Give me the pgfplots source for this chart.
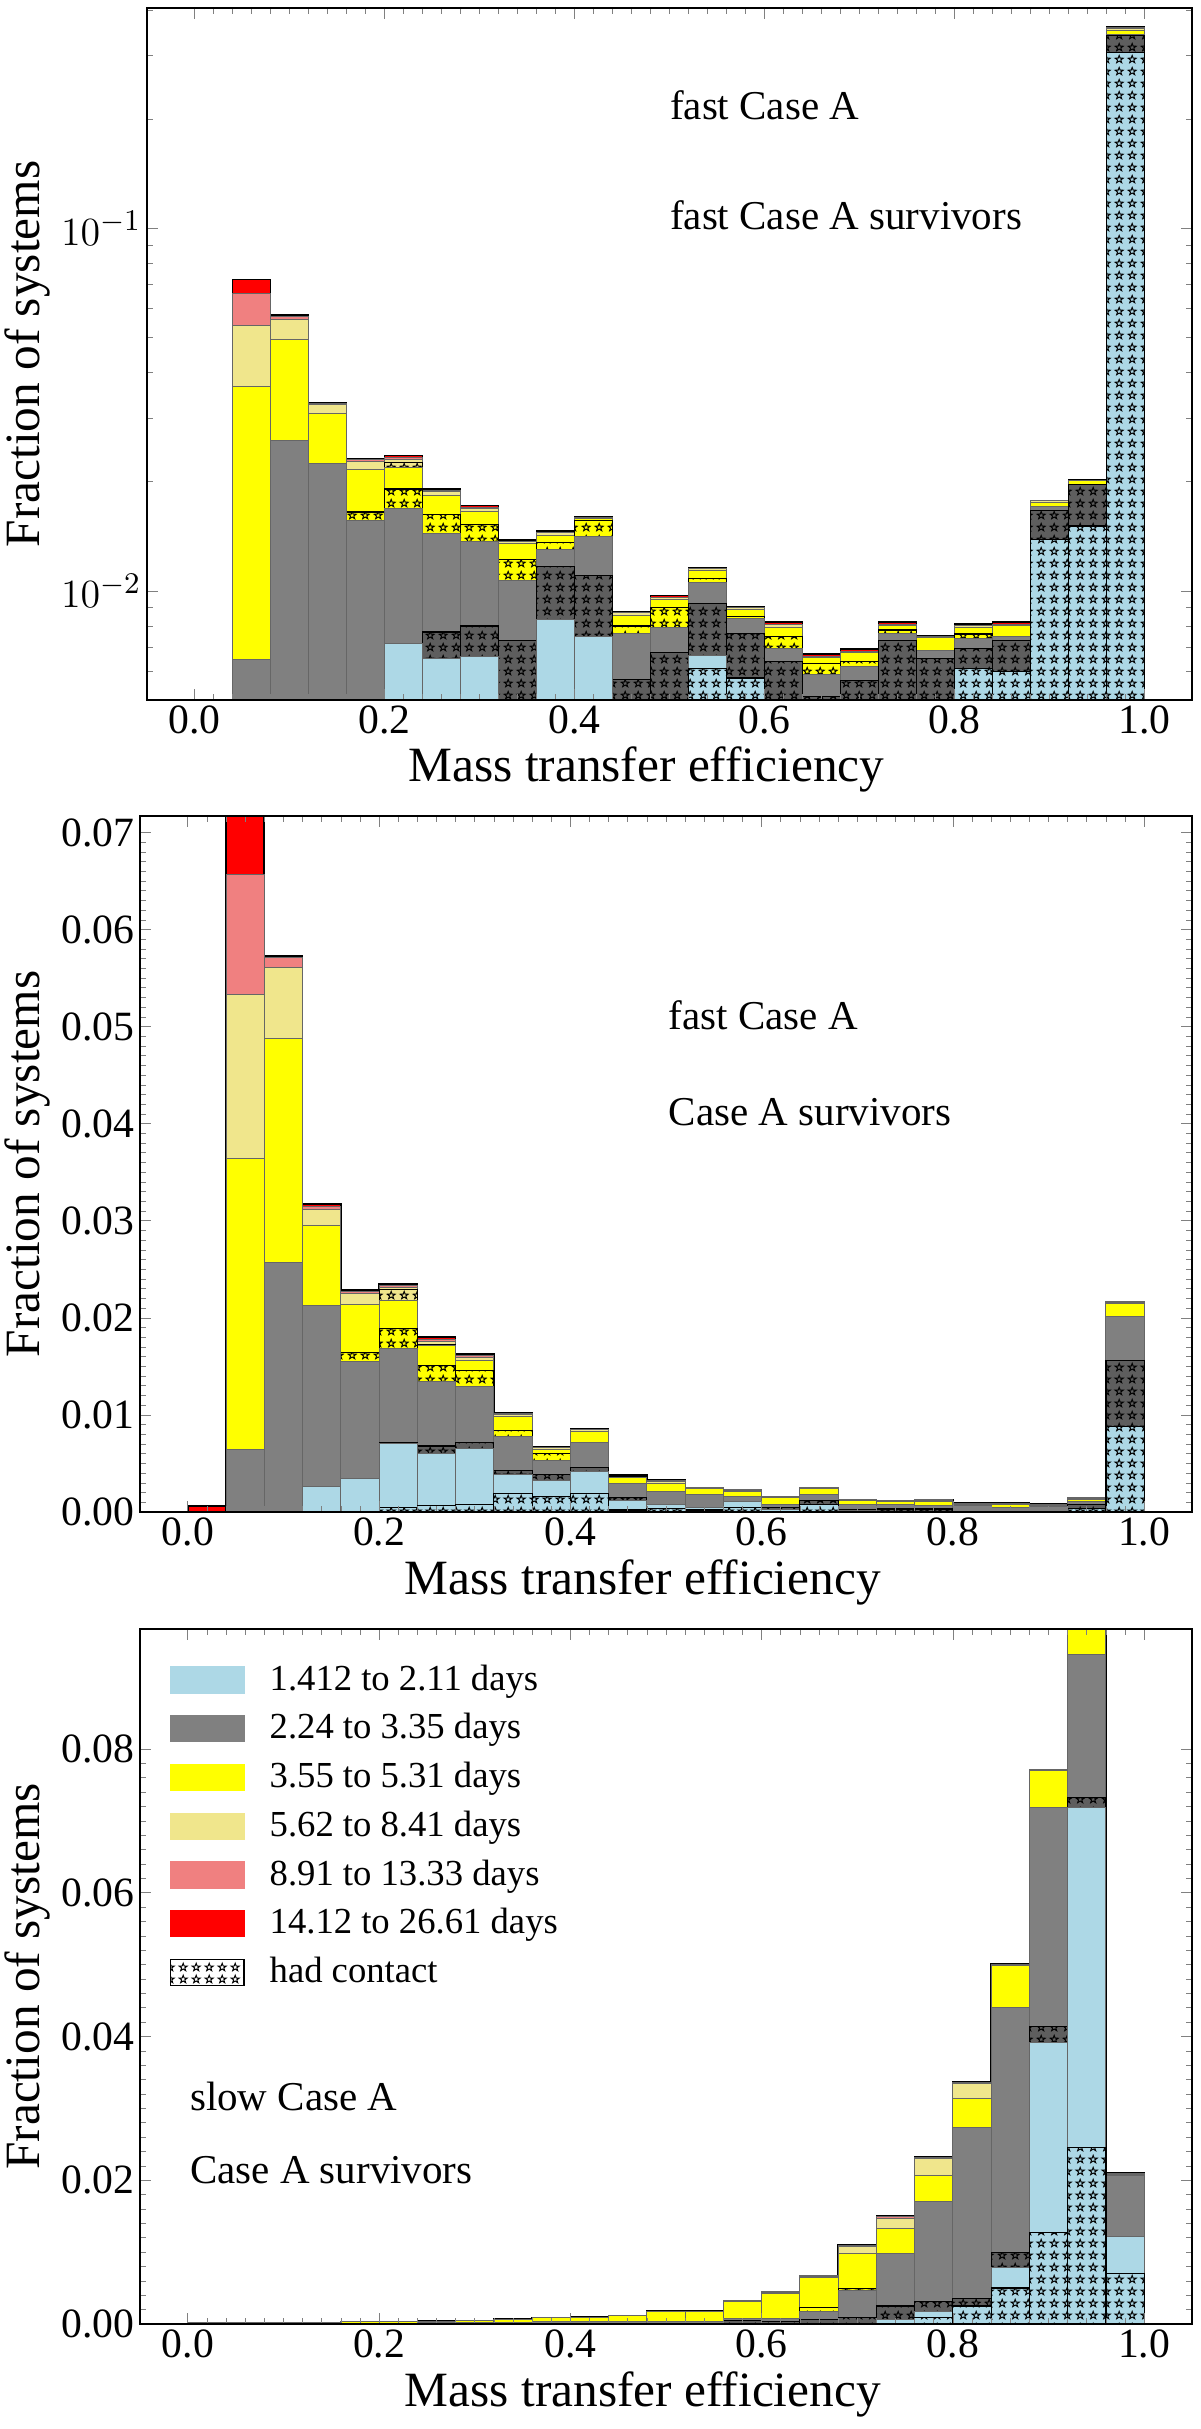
\documentclass[border=0pt]{standalone}
\usepackage{fontspec}
\setmainfont{Liberation Serif}
\usepackage{pgfplots}
\usepackage{pgfplotstable}
\pgfplotsset{compat=1.18}
\usetikzlibrary{patterns}

\definecolor{lblue}{HTML}{ADD8E6}
\definecolor{mgray}{HTML}{808080}
\definecolor{dgray}{HTML}{5E5E5E}
\definecolor{yel}{HTML}{FFFF00}
\definecolor{khak}{HTML}{F0E68C}
\definecolor{lcoral}{HTML}{F08080}
\definecolor{rred}{HTML}{FF0000}

% outlined five-pointed stars, like the matplotlib '*' hatch
\pgfdeclarepatternformonly{ostars}{\pgfqpoint{0pt}{0pt}}{\pgfqpoint{3.8pt}{3.6pt}}{\pgfqpoint{3.8pt}{3.6pt}}{%
  \pgfsetlinewidth{0.3pt}%
  \pgfpathmoveto{\pgfqpoint{1.9pt}{3.1pt}}%
  \pgfpathlineto{\pgfqpoint{1.594pt}{2.221pt}}%
  \pgfpathlineto{\pgfqpoint{0.664pt}{2.202pt}}%
  \pgfpathlineto{\pgfqpoint{1.405pt}{1.639pt}}%
  \pgfpathlineto{\pgfqpoint{1.136pt}{0.748pt}}%
  \pgfpathlineto{\pgfqpoint{1.9pt}{1.28pt}}%
  \pgfpathlineto{\pgfqpoint{2.664pt}{0.748pt}}%
  \pgfpathlineto{\pgfqpoint{2.395pt}{1.639pt}}%
  \pgfpathlineto{\pgfqpoint{3.136pt}{2.202pt}}%
  \pgfpathlineto{\pgfqpoint{2.206pt}{2.221pt}}%
  \pgfpathclose
  \pgfusepathqstroke
}

\newcommand\tickfont{\fontsize{12.5}{14}\selectfont}
\newcommand\labfont{\fontsize{14.8}{17}\selectfont}
\newcommand\annfont{\fontsize{12.3}{14}\selectfont}
\newcommand\legfont{\fontsize{11}{13}\selectfont}

% cumulative tops of the stacked layers in each bin (bin centres in x)
% lbC/lb: 1.412-2.11 d (contact / rest), grC/gr: 2.24-3.35 d, yeC/ye: 3.55-5.31 d,
% khC/kh: 5.62-8.41 d, co: 8.91-13.33 d, re: 14.12-26.61 d
\pgfplotstableread{
x    lbC     lb      grC     gr      yeC     ye      khC     kh      co      re
0.02 1e-4    1e-4    1e-4    1e-4    1e-4    1e-4    1e-4    1e-4    1e-4    1e-4
0.06 1e-4    1e-4    1e-4    0.00646 0.00646 0.0365  0.0365  0.0538  0.0661  0.0723
0.10 1e-4    1e-4    1e-4    0.0260  0.0260  0.0493  0.0493  0.0561  0.0570  0.0577
0.14 1e-4    0.0028  0.0028  0.0225  0.0225  0.0308  0.0308  0.0326  0.0329  0.0331
0.18 1e-4    0.0034  0.0034  0.0156  0.0165  0.0216  0.0216  0.0227  0.0230  0.0231
0.22 0.0005  0.00716 0.00716 0.0169  0.0191  0.0219  0.0226  0.0230  0.0233  0.0236
0.26 0.0007  0.0065  0.0077  0.0144  0.0162  0.0183  0.0183  0.0188  0.0189  0.0191
0.30 0.0008  0.0066  0.0080  0.0137  0.0152  0.0165  0.0165  0.0169  0.0170  0.0172
0.34 0.0019  0.0039  0.0073  0.0107  0.0122  0.0135  0.0135  0.0137  0.0137  0.0138
0.38 0.0016  0.00834 0.0117  0.0130  0.0136  0.0142  0.0142  0.0145  0.0145  0.0146
0.42 0.0019  0.0075  0.0110  0.0141  0.0156  0.0158  0.0158  0.0159  0.0159  0.0160
0.46 0.0002  0.0012  0.0057  0.00764 0.0080  0.00855 0.00855 0.0087  0.0087  0.00875
0.50 1e-4    1e-4    0.00676 0.00794 0.0090  0.00944 0.00944 0.0096  0.0096  0.0097
0.54 0.0061  0.00665 0.00923 0.01057 0.0108  0.0114  0.0114  0.0115  0.0115  0.01156
0.58 0.00575 0.00575 0.00764 0.0084  0.0085  0.0089  0.0089  0.0090  0.0090  0.00904
0.62 1e-4    1e-4    0.0064  0.00694 0.0075  0.00794 0.00794 0.0081  0.0081  0.0082
0.66 1e-4    1e-4    0.0051  0.00589 0.0063  0.00653 0.00653 0.0066  0.0066  0.0067
0.70 1e-4    1e-4    0.00565 0.0062  0.0064  0.00676 0.00676 0.0068  0.0068  0.0069
0.74 1e-4    1e-4    0.0073  0.00764 0.0078  0.0080  0.0080  0.0081  0.0081  0.0082
0.78 1e-4    1e-4    0.0065  0.00683 0.00683 0.00745 0.00745 0.0075  0.0075  0.0075
0.82 0.0061  0.0061  0.00694 0.0074  0.0076  0.0079  0.0079  0.0080  0.0080  0.0081
0.86 0.0060  0.0060  0.0073  0.0075  0.0075  0.0080  0.0080  0.0081  0.0081  0.0082
0.90 0.01383 0.01383 0.01664 0.0171  0.0171  0.0175  0.0175  0.0177  0.0177  0.01775
0.94 0.0151  0.0151  0.0196  0.0196  0.0196  0.0201  0.0201  0.0202  0.0202  0.0203
0.98 0.305   0.305   0.340   0.343   0.343   0.352   0.352   0.356   0.358   0.360
}\fastsurv

\pgfplotstableread{
x    lbC     lb      grC     gr      yeC     ye      khC     kh      co      re
0.02 0       0       0       0       0       0       0       0       0       0.00063
0.06 0       0       0       0.00646 0.00646 0.0364  0.0364  0.0533  0.0657  0.0720
0.10 0       0       0       0.0257  0.0257  0.0488  0.0488  0.0561  0.0571  0.0573
0.14 0       0.00263 0.00263 0.0213  0.0213  0.0295  0.0295  0.0312  0.0315  0.0317
0.18 0       0.0034  0.0034  0.0155  0.0164  0.0214  0.0214  0.0225  0.0227  0.0229
0.22 0.0005  0.0071  0.0071  0.0168  0.0189  0.0218  0.0229  0.0231  0.0233  0.0235
0.26 0.0007  0.0060  0.0068  0.0134  0.0151  0.0172  0.0172  0.0176  0.0178  0.0180
0.30 0.0008  0.0065  0.0072  0.0129  0.0146  0.0156  0.0156  0.0159  0.0161  0.0163
0.34 0.0019  0.0039  0.0043  0.0078  0.0084  0.0098  0.0098  0.0100  0.0101  0.0102
0.38 0.0016  0.0032  0.0039  0.0053  0.0060  0.0064  0.0064  0.0066  0.0066  0.0067
0.42 0.0019  0.0042  0.0046  0.0072  0.0072  0.0083  0.0083  0.0085  0.0085  0.0086
0.46 0.0002  0.0012  0.0015  0.0029  0.0029  0.0036  0.0036  0.0037  0.0037  0.0038
0.50 0.0004  0.0008  0.0008  0.0021  0.0021  0.0029  0.0029  0.0031  0.0032  0.0033
0.54 0.0002  0.0005  0.0005  0.0018  0.0018  0.0024  0.0024  0.0025  0.0025  0.0025
0.58 0.0005  0.0011  0.0011  0.0016  0.0016  0.0021  0.0021  0.0022  0.0023  0.0023
0.62 0       0.0003  0.0005  0.0008  0.0008  0.0015  0.0015  0.0016  0.0016  0.0016
0.66 0.0008  0.0008  0.0012  0.0018  0.0018  0.0024  0.0024  0.0025  0.0025  0.0025
0.70 0       0.0002  0.0002  0.0008  0.0008  0.0012  0.0012  0.0013  0.0013  0.0013
0.74 0       0       0.0003  0.0008  0.0008  0.0011  0.0011  0.0012  0.0012  0.0012
0.78 0       0       0.0003  0.0007  0.0007  0.0011  0.0011  0.0012  0.0013  0.0013
0.82 0       0       0       0.0007  0.0007  0.0008  0.0008  0.0009  0.0009  0.0009
0.86 0       0       0       0.0005  0.0005  0.0008  0.0008  0.0009  0.0009  0.0009
0.90 0       0       0       0.0006  0.0006  0.0007  0.0007  0.0008  0.0008  0.0008
0.94 0.0004  0.0004  0.0008  0.0011  0.0011  0.0013  0.0013  0.0014  0.0015  0.0015
0.98 0.0088  0.0088  0.0156  0.0201  0.0201  0.0215  0.0215  0.0216  0.0217  0.0217
}\fastall

\pgfplotstableread{
x    lbC     lb      grC     gr      yeC     ye      khC     kh      co      re
0.02 0       0       0       0.0001  0.0001  0.0002  0.0002  0.0002  0.0002  0.0002
0.06 0       0       0       0.0001  0.0001  0.0002  0.0002  0.0002  0.0002  0.0002
0.10 0       0       0       0.0001  0.0001  0.0002  0.0002  0.0002  0.0002  0.0002
0.14 0       0       0       0.0001  0.0001  0.0002  0.0002  0.0002  0.0002  0.0002
0.18 0       0       0       0.0001  0.0001  0.0003  0.0003  0.0003  0.0003  0.0003
0.22 0       0       0       0.0001  0.0001  0.0003  0.0003  0.0003  0.0003  0.0003
0.26 0       0       0       0.0002  0.0002  0.0004  0.0004  0.0004  0.0004  0.0004
0.30 0       0       0       0.0002  0.0002  0.0005  0.0005  0.0005  0.0005  0.0005
0.34 0       0       0       0.0002  0.0002  0.00065 0.00065 0.00065 0.00065 0.00065
0.38 0       0       0       0.0003  0.0003  0.00086 0.00086 0.00086 0.00086 0.00086
0.42 0       0       0       0.0003  0.0003  0.00093 0.00093 0.00093 0.00093 0.00093
0.46 0       0       0       0.0003  0.0003  0.00115 0.00115 0.00115 0.00115 0.00115
0.50 0       0       0       0.0003  0.0003  0.0018  0.0018  0.0019  0.0019  0.0019
0.54 0       0       0       0.0003  0.0003  0.0017  0.0017  0.0018  0.0018  0.0018
0.58 0       0       0.0005  0.0007  0.0007  0.0031  0.0031  0.0032  0.0032  0.0032
0.62 0       0       0.0003  0.0007  0.0007  0.0043  0.0043  0.0044  0.0045  0.0045
0.66 0       0       0.0006  0.0018  0.0023  0.0064  0.0064  0.0066  0.0067  0.0067
0.70 0       0       0.0009  0.0047  0.0049  0.0098  0.0098  0.0108  0.0109  0.0110
0.74 0       0.0006  0.0025  0.0098  0.0098  0.0133  0.0133  0.0147  0.0149  0.0151
0.78 0.0009  0.0018  0.0031  0.0170  0.0170  0.0206  0.0206  0.0230  0.0231  0.0232
0.82 0.0025  0.0025  0.0036  0.0273  0.0273  0.0314  0.0314  0.0335  0.0336  0.0337
0.86 0.0050  0.0079  0.0100  0.0440  0.0440  0.0499  0.0499  0.0500  0.0500  0.0501
0.90 0.0127  0.0391  0.0414  0.0718  0.0718  0.0770  0.0770  0.0771  0.0771  0.0771
0.94 0.0246  0.0718  0.0732  0.0931  0.0931  0.0970  0.0970  0.0971  0.0972  0.0972
0.98 0.0070  0.0122  0.0122  0.0206  0.0206  0.0208  0.0208  0.0209  0.0210  0.0210
}\slowall

\pgfplotsset{
  panel/.style={
    scale only axis,
    xmin=-0.05, xmax=1.05,
    xtick={0,0.2,0.4,0.6,0.8,1},
    minor x tick num=9,
    tick align=inside, tick pos=both,
    major tick length=3.4pt, minor tick length=1.8pt,
    axis on top,
    tick label style={font=\tickfont},
    ticklabel style={inner sep=1.5pt},
    /pgf/number format/assume math mode=true,
    scaled x ticks=false, scaled y ticks=false,
    xticklabel style={/pgf/number format/fixed,/pgf/number format/fixed zerofill,/pgf/number format/precision=1},
    xlabel={Mass transfer efficiency},
    ylabel={Fraction of systems},
    label style={font=\labfont},
    x label style={at={(axis description cs:0.478,-0.101)}, anchor=center},
  },
  lay/.style={ybar, bar shift=0pt, bar width=0.04, forget plot, draw=black!60, line width=0.3pt},
  hat/.style={draw=black, line width=0.35pt, postaction={pattern=ostars, pattern color=black}},
  legpatch/.style={legend image code/.code={\path[##1] (0pt,-3.9pt) rectangle (22pt,3.9pt);}},
}

% each layer is drawn from the axis floor up to its cumulative top, top layer first
\newcommand\stack[1]{%
  \addplot[lay, fill=rred, draw=black, line width=0.5pt] table[x=x, y=re] {#1};
  \addplot[lay, fill=lcoral] table[x=x, y=co] {#1};
  \addplot[lay, fill=khak] table[x=x, y=kh] {#1};
  \addplot[lay, fill=khak, hat] table[x=x, y=khC] {#1};
  \addplot[lay, fill=yel] table[x=x, y=ye] {#1};
  \addplot[lay, fill=yel, hat] table[x=x, y=yeC] {#1};
  \addplot[lay, fill=mgray] table[x=x, y=gr] {#1};
  \addplot[lay, fill=dgray, hat] table[x=x, y=grC] {#1};
  \addplot[lay, fill=lblue] table[x=x, y=lb] {#1};
  \addplot[lay, fill=lblue, hat] table[x=x, y=lbC] {#1};
}

\begin{document}
\begin{tikzpicture}
\useasboundingbox (0,0) rectangle (360pt,728.7pt);

% top: fast Case A survivors, log scale
\begin{axis}[panel,
  at={(44.1pt,518.7pt)}, anchor=south west,
  width=313.5pt, height=207.6pt,
  ymode=log, log origin=infty,
  ymin=0.005, ymax=0.405,
  y label style={at={(axis description cs:-0.1148,0.5)}, anchor=center},
]
\stack{\fastsurv}
\node[anchor=west, inner sep=0pt, font=\annfont] at (rel axis cs:0.5,0.86) {fast Case A};
\node[anchor=west, inner sep=0pt, font=\annfont] at (rel axis cs:0.5,0.70) {fast Case A survivors};
\end{axis}

% middle: fast Case A, Case A survivors
\begin{axis}[panel,
  at={(42pt,275.1pt)}, anchor=south west,
  width=315.6pt, height=208.8pt,
  ymin=0, ymax=0.0717,
  ytick={0,0.01,0.02,0.03,0.04,0.05,0.06,0.07},
  minor y tick num=9,
  yticklabel style={/pgf/number format/fixed,/pgf/number format/fixed zerofill,/pgf/number format/precision=2},
  y label style={at={(axis description cs:-0.1074,0.5)}, anchor=center},
]
\stack{\fastall}
\node[anchor=west, inner sep=0pt, font=\annfont] at (rel axis cs:0.502,0.714) {fast Case A};
\node[anchor=west, inner sep=0pt, font=\annfont] at (rel axis cs:0.502,0.575) {Case A survivors};
\end{axis}

% bottom: slow Case A, Case A survivors
\begin{axis}[panel,
  at={(42pt,31.5pt)}, anchor=south west,
  width=315.6pt, height=208.5pt,
  ymin=0, ymax=0.0967,
  ytick={0,0.02,0.04,0.06,0.08},
  minor y tick num=9,
  yticklabel style={/pgf/number format/fixed,/pgf/number format/fixed zerofill,/pgf/number format/precision=2},
  y label style={at={(axis description cs:-0.1074,0.5)}, anchor=center},
  legend cell align=left,
  legend style={at={(0,1)}, anchor=north west, xshift=8.7pt, yshift=-9pt,
    draw=none, fill=none, inner sep=0pt, row sep=2.5pt, column sep=6pt,
    font=\legfont, nodes={inner sep=1.5pt}},
]
\stack{\slowall}
\addlegendimage{legpatch, fill=lblue, draw=lblue}
\addlegendentry{1.412 to 2.11 days}
\addlegendimage{legpatch, fill=mgray, draw=mgray}
\addlegendentry{2.24 to 3.35 days}
\addlegendimage{legpatch, fill=yel, draw=yel}
\addlegendentry{3.55 to 5.31 days}
\addlegendimage{legpatch, fill=khak, draw=khak}
\addlegendentry{5.62 to 8.41 days}
\addlegendimage{legpatch, fill=lcoral, draw=lcoral}
\addlegendentry{8.91 to 13.33 days}
\addlegendimage{legpatch, fill=rred, draw=rred}
\addlegendentry{14.12 to 26.61 days}
\addlegendimage{legpatch, fill=white, draw=black, line width=0.5pt, postaction={pattern=ostars, pattern color=black}}
\addlegendentry{had contact}
\node[anchor=west, inner sep=0pt, font=\annfont] at (rel axis cs:0.047,0.327) {slow Case A};
\node[anchor=west, inner sep=0pt, font=\annfont] at (rel axis cs:0.047,0.222) {Case A survivors};
\end{axis}
\end{tikzpicture}
\end{document}
